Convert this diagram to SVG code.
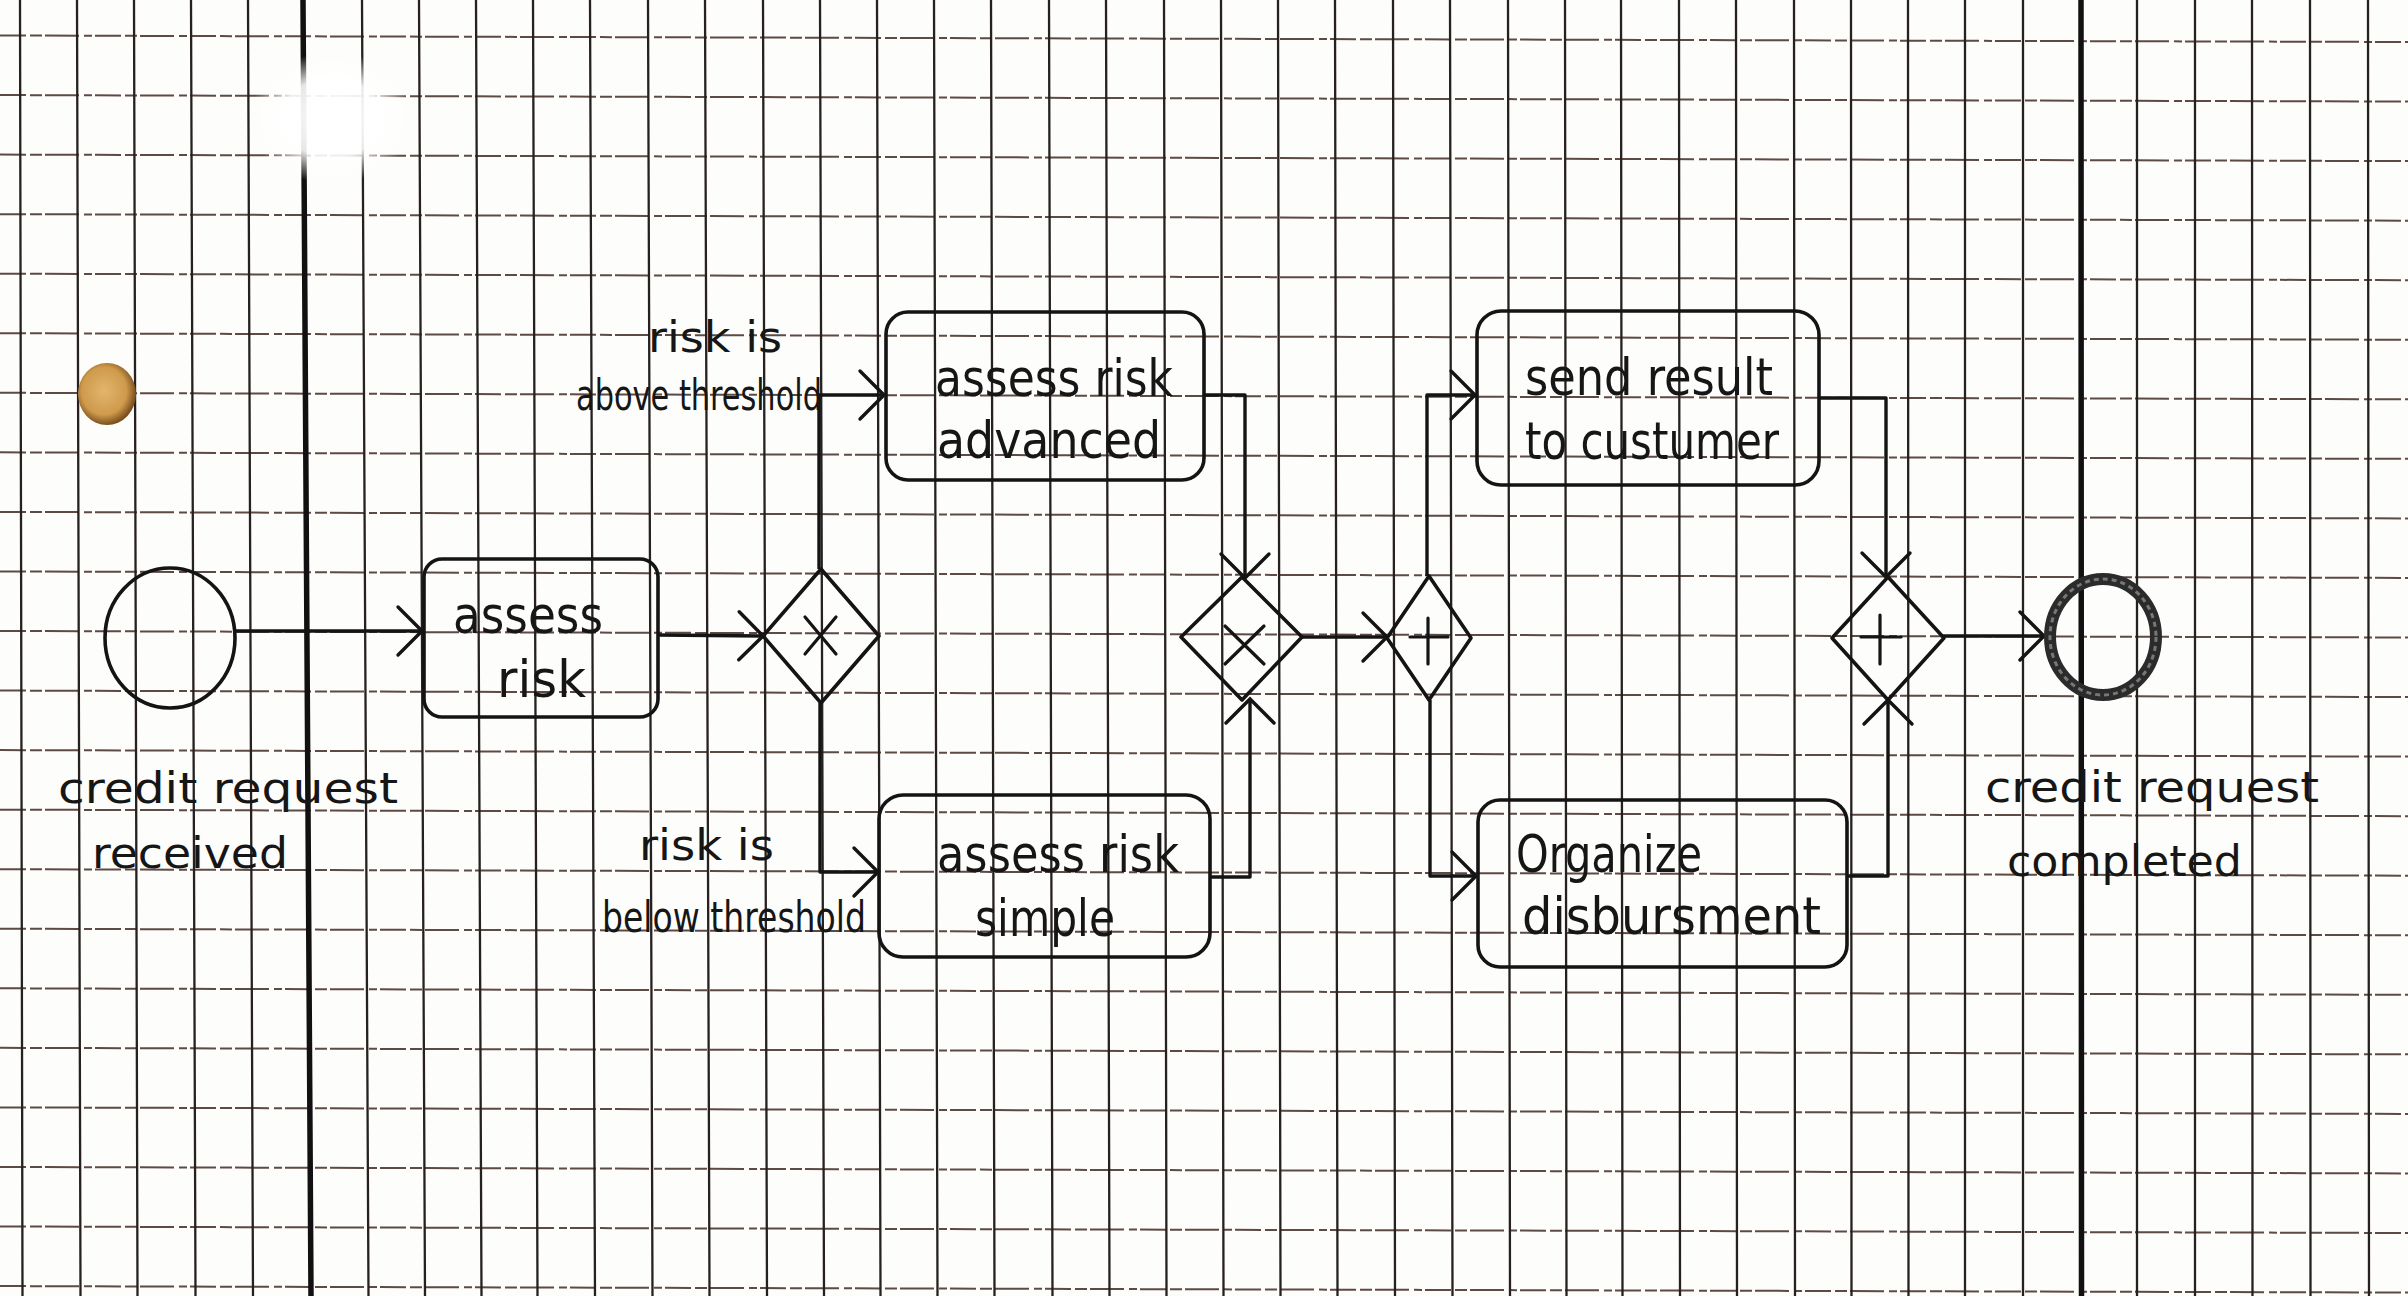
<svg xmlns="http://www.w3.org/2000/svg" width="2408" height="1296" viewBox="0 0 2408 1296">
<style>
.gv{fill:none;stroke:#262120;stroke-width:2.3}
.gvt{fill:none;stroke:#111;stroke-width:5.5}
.gh{fill:none;stroke:#5e4a44;stroke-width:2;stroke-dasharray:26 4 12 3 34 5 8 3}
.shape{fill:none;stroke:#141414;stroke-width:3.6;stroke-linejoin:round;stroke-linecap:round}
.mark{fill:none;stroke:#141414;stroke-width:3.2;stroke-linecap:round}
.flow{fill:none;stroke:#141414;stroke-width:3.4;stroke-linejoin:round;marker-end:url(#arr)}
.lbl{font-family:"Liberation Sans Narrow","DejaVu Sans Condensed","Liberation Sans",sans-serif;font-size:42px;fill:#161616}
.tsk{font-size:52px}
</style>
<defs>
<marker id="arr" markerUnits="userSpaceOnUse" viewBox="-30 -30 34 60" refX="0" refY="0" markerWidth="34" markerHeight="60" orient="auto">
<path d="M-24,-24 L0,0 L-24,24" fill="none" stroke="#141414" stroke-width="3.4" stroke-linecap="round"/>
</marker>
<radialGradient id="glare" cx="0.5" cy="0.5" r="0.5">
<stop offset="0" stop-color="#fff" stop-opacity="1"/>
<stop offset="0.6" stop-color="#fff" stop-opacity="0.9"/>
<stop offset="1" stop-color="#fff" stop-opacity="0"/>
</radialGradient>
<radialGradient id="blob" cx="0.45" cy="0.45" r="0.55">
<stop offset="0" stop-color="#e2b56c"/>
<stop offset="0.7" stop-color="#cf9a4c"/>
<stop offset="1" stop-color="#7a4f1e"/>
</radialGradient>
</defs>
<rect x="0" y="0" width="2408" height="1296" fill="#fdfdfb"/>
<g id="grid">
<path class="gh" d="M0,35.5L2408,42M0,95.05L2408,101.55M0,154.6L2408,161.1M0,214.15L2408,220.65M0,273.7L2408,280.2M0,333.25L2408,339.75M0,392.8L2408,399.3M0,452.35L2408,458.85M0,511.9L2408,518.4M0,571.45L2408,577.95M0,631L2408,637.5M0,690.55L2408,697.05M0,750.1L2408,756.6M0,809.65L2408,816.15M0,869.2L2408,875.7M0,928.75L2408,935.25M0,988.3L2408,994.8M0,1047.85L2408,1054.35M0,1107.4L2408,1113.9M0,1166.95L2408,1173.45M0,1226.5L2408,1233M0,1286.05L2408,1292.55"/>
<path class="gv" d="M20,0L22.5,1296M77,0L80.5,1296M134,0L137.5,1296M191,0L195.5,1296M248,0L253,1296M362,0L368.5,1296M419,0L425,1296M476,0L481.5,1296M533,0L537.5,1296M590,0L595,1296M648,0L652.5,1296M705,0L709.5,1296M763,0L767,1296M820,0L824,1296M877,0L880.5,1296M934,0L937.5,1296M991,0L994.5,1296M1049,0L1052.5,1296M1106,0L1109.5,1296M1164,0L1166.5,1296M1221,0L1223.5,1296M1278,0L1280.5,1296M1335,0L1337.5,1296M1393,0L1395,1296M1450,0L1452.5,1296M1508,0L1510,1296M1565,0L1566.5,1296M1621,0L1622.5,1296M1679,0L1680,1296M1736,0L1737,1296M1794,0L1795,1296M1851,0L1851.5,1296M1908,0L1908.5,1296M1965,0L1965,1296M2023,0L2023,1296M2137,0L2137,1296M2195,0L2195,1296M2252,0L2252.5,1296M2310,0L2310.5,1296M2368,0L2369,1296"/>
<path class="gvt" d="M303,0L311,1296M2081,0L2081.5,1296"/>
<ellipse cx="332" cy="118" rx="82" ry="66" fill="url(#glare)"/>
<ellipse cx="107" cy="394" rx="29" ry="31" fill="url(#blob)"/>
</g>
<g id="connectors">
<path class="flow" d="M235,631 L422,631"/>
<path class="flow" d="M658,635 L763,636"/>
<path class="flow" d="M819,569 L819,395 L884,395"/>
<path class="flow" d="M820,703 L820,872 L878,872"/>
<path class="flow" d="M1204,395 L1245,395 L1245,578"/>
<path class="flow" d="M1210,877 L1250,877 L1250,699"/>
<path class="flow" d="M1302,637 L1387,637"/>
<path class="flow" d="M1427,576 L1427,395 L1475,395"/>
<path class="flow" d="M1430,700 L1430,876 L1476,876"/>
<path class="flow" d="M1818,398 L1886,398 L1886,577"/>
<path class="flow" d="M1847,876 L1888,876 L1888,700"/>
<path class="flow" d="M1943,636 L2044,636"/>
</g>
<g id="start_event">
<ellipse class="shape" cx="170" cy="638" rx="65" ry="70"/>
<text class="lbl" x="58" y="803" textLength="340" lengthAdjust="spacingAndGlyphs">credit request</text>
<text class="lbl" x="92" y="868" textLength="196" lengthAdjust="spacingAndGlyphs">received</text>
</g>
<g id="task_assess_risk">
<rect class="shape" x="424" y="559" width="234" height="158" rx="18"/>
<text class="lbl tsk" x="453" y="633" textLength="150" lengthAdjust="spacingAndGlyphs">assess</text>
<text class="lbl tsk" x="497" y="697" textLength="89" lengthAdjust="spacingAndGlyphs">risk</text>
</g>
<g id="gateway_split_xor">
<path class="shape" d="M821,569 L879,636 L821,703 L763,636 Z"/>
<path class="mark" d="M805,617 L836,654 M836,617 L805,654"/>
</g>
<g id="label_above">
<text class="lbl" x="648" y="352" textLength="134" lengthAdjust="spacingAndGlyphs">risk is</text>
<text class="lbl" x="576" y="410" textLength="246" lengthAdjust="spacingAndGlyphs">above threshold</text>
</g>
<g id="label_below">
<text class="lbl" x="639" y="860" textLength="135" lengthAdjust="spacingAndGlyphs">risk is</text>
<text class="lbl" x="602" y="932" textLength="264" lengthAdjust="spacingAndGlyphs">below threshold</text>
</g>
<g id="task_assess_advanced">
<rect class="shape" x="886" y="312" width="318" height="168" rx="22"/>
<text class="lbl tsk" x="935" y="396" textLength="238" lengthAdjust="spacingAndGlyphs">assess risk</text>
<text class="lbl tsk" x="937" y="458" textLength="224" lengthAdjust="spacingAndGlyphs">advanced</text>
</g>
<g id="task_assess_simple">
<rect class="shape" x="879" y="795" width="331" height="162" rx="24"/>
<text class="lbl tsk" x="937" y="872" textLength="242" lengthAdjust="spacingAndGlyphs">assess risk</text>
<text class="lbl tsk" x="975" y="936" textLength="140" lengthAdjust="spacingAndGlyphs">simple</text>
</g>
<g id="gateway_join_xor">
<path class="shape" d="M1242,577 L1302,637 L1242,700 L1181,637 Z"/>
<path class="mark" d="M1225,626 L1264,664 M1264,626 L1225,664"/>
</g>
<g id="gateway_split_and">
<path class="shape" d="M1429,576 L1471,638 L1429,700 L1387,638 Z"/>
<path class="mark" d="M1428,618 L1428,664 M1410,637 L1448,637"/>
</g>
<g id="task_send_result">
<rect class="shape" x="1477" y="311" width="342" height="174" rx="24"/>
<text class="lbl tsk" x="1525" y="395" textLength="248" lengthAdjust="spacingAndGlyphs">send result</text>
<text class="lbl tsk" x="1525" y="459" textLength="254" lengthAdjust="spacingAndGlyphs">to custumer</text>
</g>
<g id="task_organize">
<rect class="shape" x="1478" y="800" width="369" height="167" rx="22"/>
<text class="lbl tsk" x="1516" y="872" textLength="186" lengthAdjust="spacingAndGlyphs">Organize</text>
<text class="lbl tsk" x="1522" y="934" textLength="299" lengthAdjust="spacingAndGlyphs">disbursment</text>
</g>
<g id="gateway_join_and">
<path class="shape" d="M1888,577 L1944,638 L1888,700 L1832,638 Z"/>
<path class="mark" d="M1880,615 L1880,664 M1861,637 L1901,637"/>
</g>
<g id="end_event">
<ellipse cx="2103" cy="637" rx="53" ry="58" fill="none" stroke="#2b2b2b" stroke-width="12"/>
<ellipse cx="2103" cy="637" rx="53" ry="58" fill="none" stroke="#777" stroke-width="3" stroke-dasharray="5 4"/>
<text class="lbl" x="1985" y="802" textLength="334" lengthAdjust="spacingAndGlyphs">credit request</text>
<text class="lbl" x="2007" y="876" textLength="235" lengthAdjust="spacingAndGlyphs">completed</text>
</g>
</svg>
